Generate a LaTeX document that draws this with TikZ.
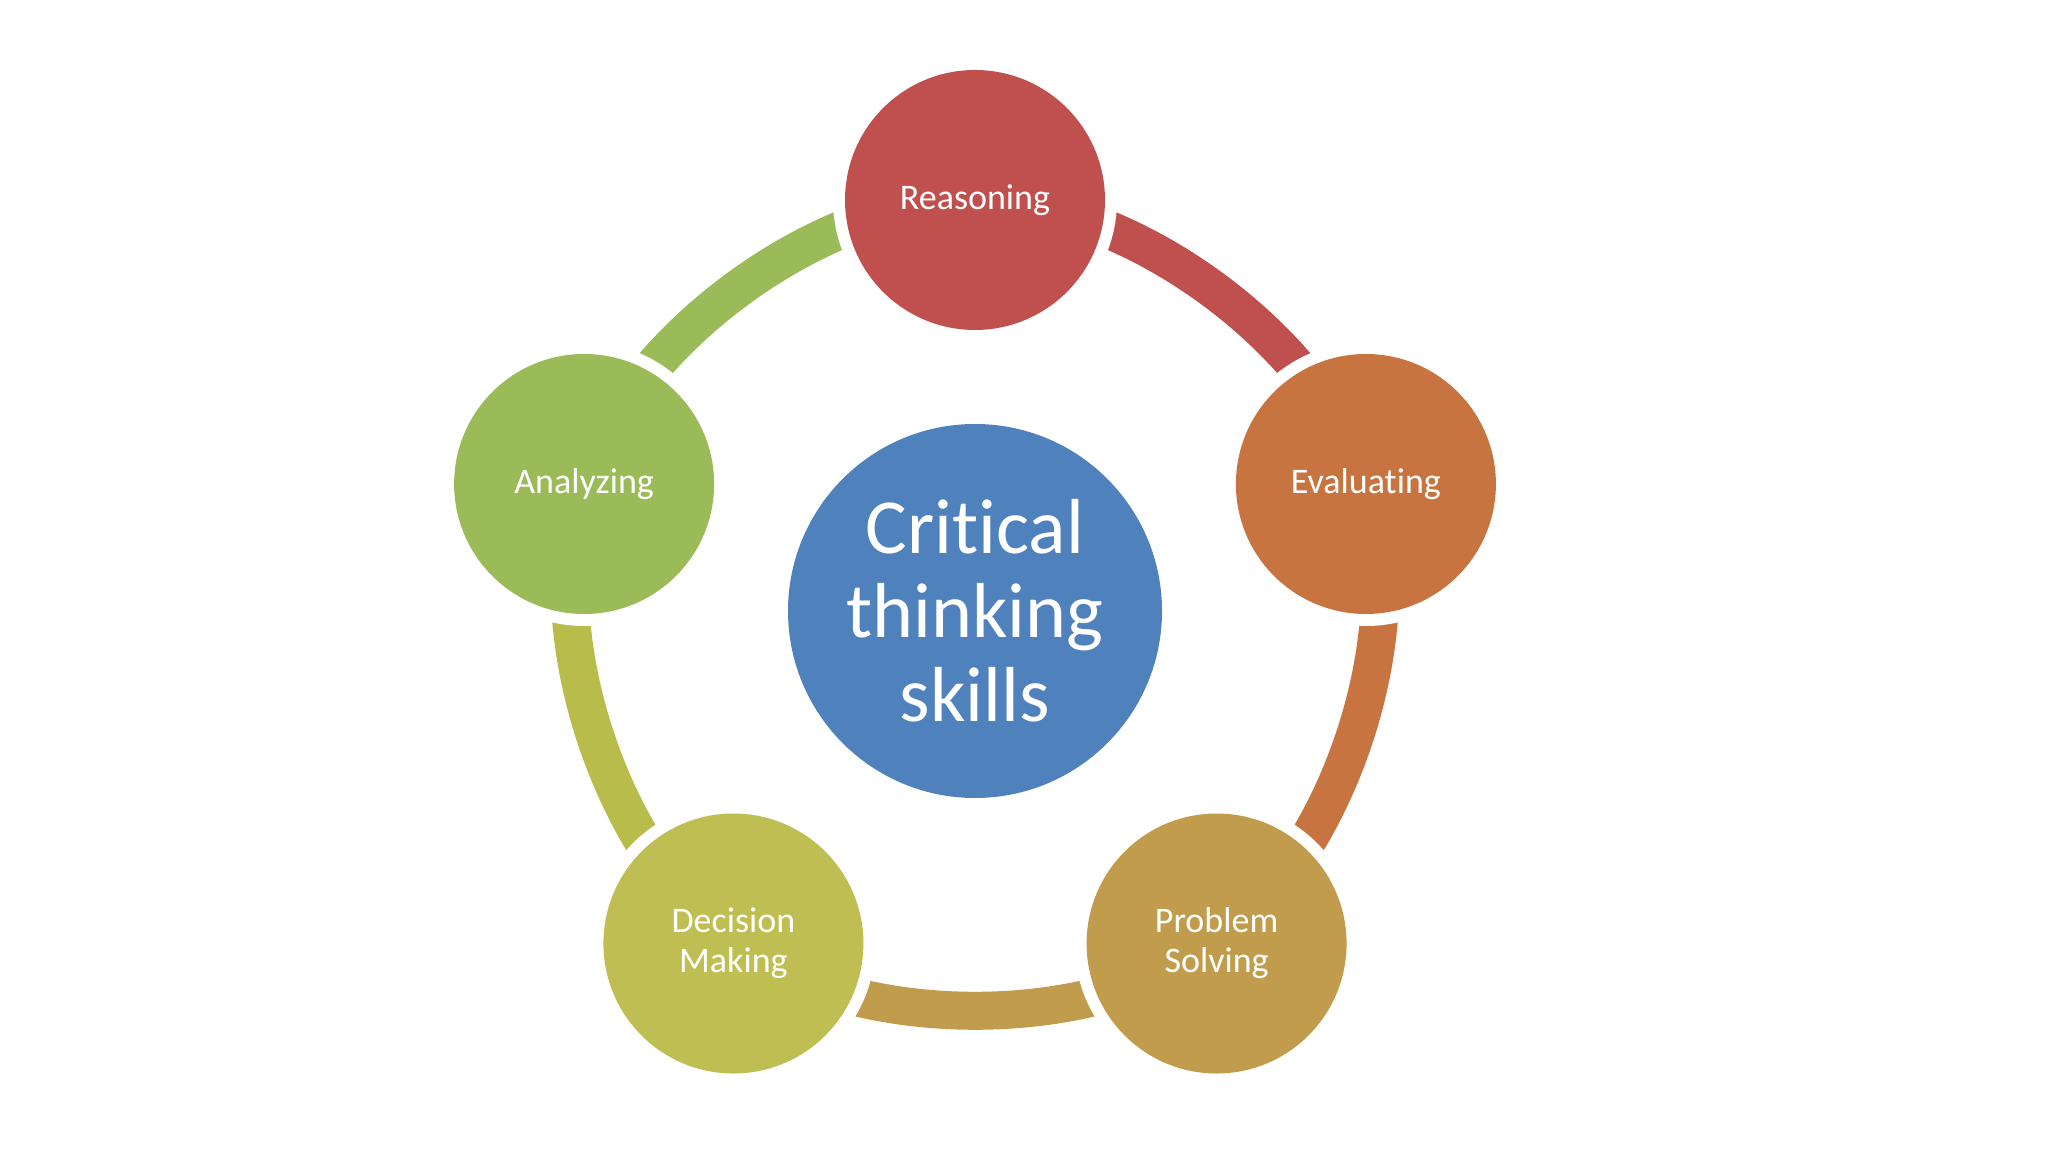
\documentclass[tikz,border=0pt]{standalone}
\usepackage{fontspec}
\setmainfont{Carlito}[Ligatures={NoCommon}]
\usetikzlibrary{backgrounds}
\definecolor{cR}{HTML}{C0504D}
\definecolor{cE}{HTML}{C77441}
\definecolor{cP}{HTML}{C19C4C}
\definecolor{cD}{HTML}{BFBE52}
\definecolor{cL}{HTML}{B8BC4A}
\definecolor{cA}{HTML}{9BBB59}
\definecolor{cB}{HTML}{4F81BD}
\begin{document}
\begin{tikzpicture}[x=0.5pt,y=0.5pt,
  skill/.style={circle, minimum size=130pt, inner sep=0pt, text=white,
    font=\fontsize{18}{20}\selectfont, align=center,
    preaction={draw=white, line width=12pt}},
  hub/.style={circle, minimum size=187pt, inner sep=0pt, text=white, fill=cB,
    font=\fontsize{39}{42}\selectfont, align=center},
  ring/.style={line width=19pt, bend left=36, looseness=0.81}]
\useasboundingbox (0,0) rectangle (2048,1152);
\coordinate (c) at (975,541);
\node[hub] (ct) at (c) {Critical\\thinking\\skills};
\node[skill, fill=cR] (reas) at ([shift={(90:205.5pt)}]c) {Reasoning};
\node[skill, fill=cE] (eval) at ([shift={(18:205.5pt)}]c) {Evaluating};
\node[skill, fill=cP] (prob) at ([shift={(-54:205.5pt)}]c) {Problem\\Solving};
\node[skill, fill=cD] (deci) at ([shift={(-126:205.5pt)}]c) {Decision\\Making};
\node[skill, fill=cA] (anal) at ([shift={(162:205.5pt)}]c) {Analyzing};
\begin{pgfonlayer}{background}
\fill[white] (0,0) rectangle (2048,1152);
\draw[ring, cR] (reas.center) to (eval.center);
\draw[ring, cE] (eval.center) to (prob.center);
\draw[ring, cP] (prob.center) to (deci.center);
\draw[ring, cL] (deci.center) to (anal.center);
\draw[ring, cA] (anal.center) to (reas.center);
\end{pgfonlayer}
\end{tikzpicture}
\end{document}
